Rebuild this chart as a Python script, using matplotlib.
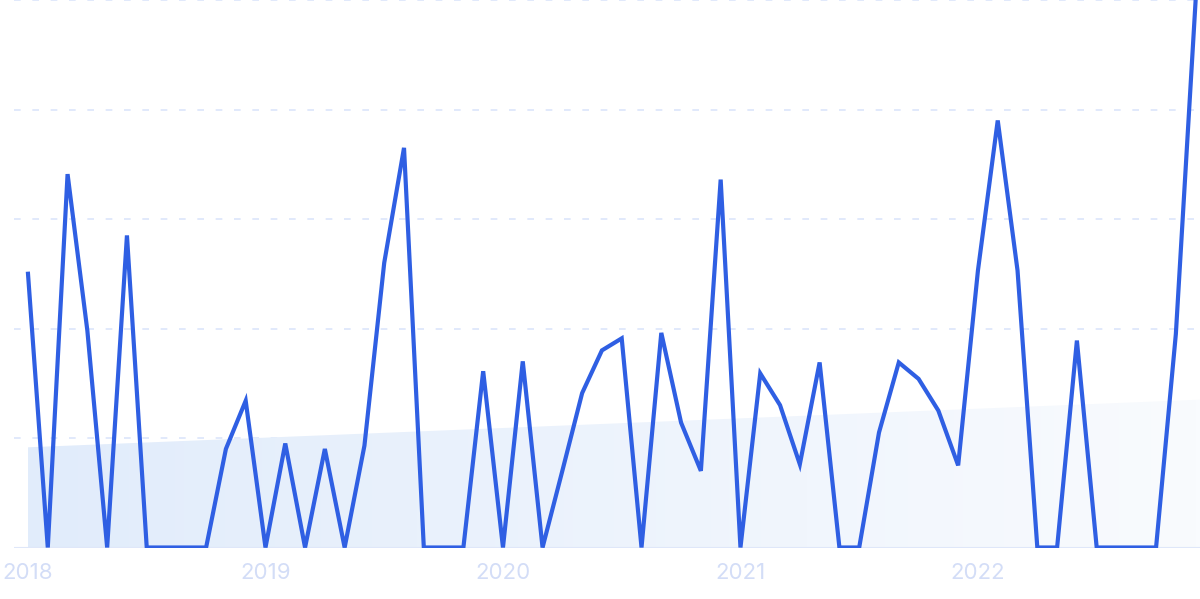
import matplotlib.pyplot as plt
import numpy as np
from matplotlib.colors import LinearSegmentedColormap

# monthly values, Jan 2018 .. Dec 2022
values = [2.50, 0.00, 3.41, 1.98, 0.00, 2.85, 0.00, 0.00, 0.00, 0.00,
          0.90, 1.34, 0.00, 0.95, 0.00, 0.90, 0.00, 0.93, 2.60, 3.65,
          0.00, 0.00, 0.00, 1.61, 0.00, 1.70, 0.00, 0.70, 1.41, 1.80,
          1.91, 0.00, 1.96, 1.14, 0.70, 3.36, 0.00, 1.59, 1.30, 0.76,
          1.69, 0.00, 0.00, 1.05, 1.69, 1.54, 1.25, 0.75, 2.53, 3.90,
          2.53, 0.00, 0.00, 1.89, 0.00, 0.00, 0.00, 0.00, 1.95, 5.00]
year_labels = ["2018", "2019", "2020", "2021", "2022"]
year_pos = [0, 12, 24, 36, 48]
trend_start, trend_end = 0.915, 1.35

x = np.arange(len(values))

fig = plt.figure(figsize=(12, 5.99), dpi=100)
ax = fig.add_axes([14 / 1200, 51.5 / 599, 1186 / 1200, 547.5 / 599])
ax.set_xlim(-0.707, 59.22)
ax.set_ylim(0, 5)

# trend area with left-to-right fading gradient
tx = np.array([0, 59.22])
ty = np.array([trend_start, trend_end])
poly = ax.fill_between(tx, 0, ty, color="none", lw=0)
cmap = LinearSegmentedColormap.from_list("fade", ["#e1ecfb", "#f9fbfe"])
grad = np.linspace(0, 1, 256).reshape(1, -1)
img = ax.imshow(grad, cmap=cmap, aspect="auto", extent=[0, 59.22, 0, trend_end],
                zorder=1, origin="lower")
img.set_clip_path(poly.get_paths()[0], transform=ax.transData)

for g in [1, 2, 3, 4, 5]:
    ax.axhline(g, color="#dce5fb", lw=1.2, ls=(0, (4, 7)), zorder=0.5)
ax.axhline(0, color="#dfe7f9", lw=1.5, zorder=2)

ax.plot(x, values, color="#2f5fe3", lw=3, zorder=3, solid_joinstyle="miter",
        clip_on=True)

ax.set_xticks(year_pos)
ax.set_xticklabels(year_labels, fontsize=16, color="#d3ddf7", family="Inter")
ax.tick_params(axis="x", length=0, pad=11)
ax.set_yticks([])
for s in ax.spines.values():
    s.set_visible(False)

fig.savefig("out.png", dpi=100)
